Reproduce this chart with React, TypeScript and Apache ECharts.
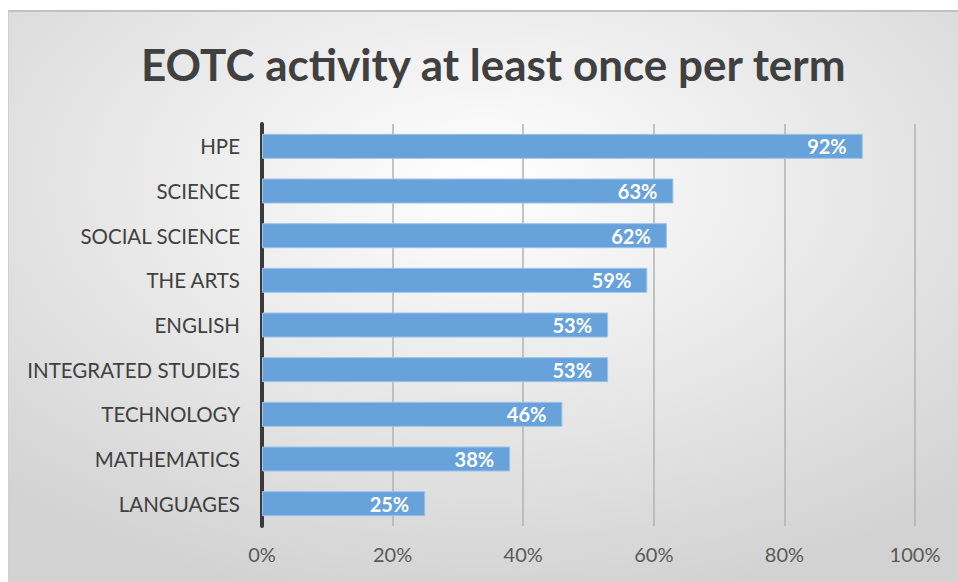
import React, { useEffect, useRef } from "react";
import * as echarts from "echarts";

const categories = [
  "HPE",
  "SCIENCE",
  "SOCIAL SCIENCE",
  "THE ARTS",
  "ENGLISH",
  "INTEGRATED STUDIES",
  "TECHNOLOGY",
  "MATHEMATICS",
  "LANGUAGES",
];
const values = [92, 63, 62, 59, 53, 53, 46, 38, 25];
const titleText = "EOTC activity at least once per term";

export default function App() {
  const ref = useRef<HTMLDivElement>(null);
  useEffect(() => {
    if (!ref.current) return;
    const chart = echarts.init(ref.current, null, { renderer: "svg" });
    chart.setOption({
      animation: false,
      backgroundColor: {
        type: "radial",
        x: 0.5,
        y: 0.3,
        r: 0.75,
        colorStops: [
          { offset: 0, color: "#ffffff" },
          { offset: 1, color: "#d2d2d2" },
        ],
      },
      title: {
        text: titleText,
        left: 127,
        top: 25,
        textStyle: {
          fontFamily: "Lato",
          fontWeight: "bold",
          fontSize: 44,
          color: "#404040",
        },
      },
      grid: { left: 253, right: 43, top: 112, bottom: 56 },
      xAxis: {
        type: "value",
        min: 0,
        max: 100,
        interval: 20,
        axisLine: { show: false },
        axisTick: { show: false },
        axisLabel: {
          formatter: "{value}%",
          color: "#595959",
          fontFamily: "Lato",
          fontSize: 20,
          margin: 18,
        },
        splitLine: {
          show: true,
          lineStyle: {
            color: "#b2b2b2",
            width: 1.5,
          },
        },
      },
      yAxis: {
        type: "category",
        data: categories,
        inverse: true,
        axisLine: { show: true, lineStyle: { color: "#3a3a3a", width: 4 } },
        axisTick: { show: false },
        axisLabel: {
          color: "#404040",
          fontFamily: "Lato",
          fontSize: 20.5,
          margin: 22,
        },
      },
      series: [
        {
          type: "bar",
          data: values,
          barWidth: "56%",
          itemStyle: {
            color: "#67a2da",
            borderColor: "#9cc4ea",
            borderWidth: 1,
          },
          label: {
            show: true,
            position: "insideRight",
            formatter: "{c}%",
            color: "#ffffff",
            fontFamily: "Lato",
            fontWeight: "bold",
            fontSize: 20,
            distance: 16,
          },
        },
      ],
    });
    return () => chart.dispose();
  }, []);
  return (
    <div
      style={{
        position: "fixed",
        left: 0,
        top: 0,
        width: 958,
        height: 582,
        background: "#ffffff",
        overflow: "hidden",
      }}
    >
      <div
        style={{
          position: "absolute",
          left: 8,
          top: 10,
          width: 950,
          height: 572,
          borderTop: "2px solid #c0c0c0",
          borderLeft: "1px solid #d0d0d0",
        }}
      >
        <div ref={ref} style={{ width: 949, height: 570 }} />
      </div>
    </div>
  );
}
